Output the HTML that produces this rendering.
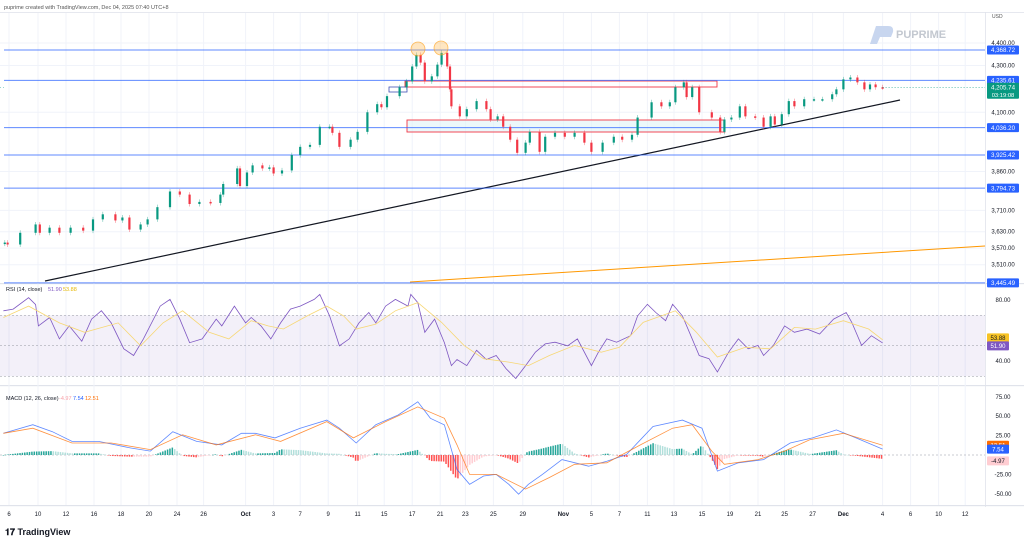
<!DOCTYPE html>
<html><head><meta charset="utf-8">
<style>
html,body{margin:0;padding:0;background:#fff;width:1024px;height:545px;overflow:hidden;font-family:"Liberation Sans",sans-serif}
svg{display:block}
text{font-family:"Liberation Sans",sans-serif}
</style></head>
<body>
<svg id="chart" width="1024" height="545" viewBox="0 0 1024 545">
  <text x="4" y="9" font-size="5.5" fill="#555">puprime created with TradingView.com, Dec 04, 2025 07:40 UTC+8</text>
  <g id="grid"></g>
  <g id="price"></g>
  <g id="rsi"></g>
  <g id="macd"></g>
  <g id="axis"></g>
  <g>
    <path d="M870 44 L876 26 L888 26 Q894 26 893 32 L891 37 L880 37 L877 44 Z" fill="#c8d6ef"/>
    <text x="896" y="38" font-size="11" font-weight="bold" fill="#c3c8d0">PUPRIME</text>
  </g>
  <g>
    <text x="5" y="535" font-size="9" font-weight="bold" fill="#131722">𝟏𝟕 TradingView</text>
  </g>
</svg>
<script>
// ---- Price data (trading days since Sep 6, close) ----
const priceDays=[-0.3,-0.1,0.8,1.9,2.2,2.9,3.6,4.4,5.3,6.0,6.7,7.6,8.1,8.6,9.4,9.9,10.6,11.5,12.2,12.9,13.6,14.4,15.1,15.3,16.3,16.5,17.0,17.4,18.1,18.6,18.9,19.5,20.2,20.8,21.5,22.2,22.9,23.1,23.6,24.4,24.9,25.6,26.3,26.6,27.0,27.9,28.4,28.8,29.1,29.4,29.7,30.2,30.6,30.9,31.3,31.5,31.6,32.2,32.7,33.4,34.1,34.4,34.9,35.3,35.8,36.3,36.9,37.2,37.9,38.3,39.0,39.7,40.4,41.1,41.6,42.4,43.2,43.8,44.5,44.9,45.9,46.6,47.2,47.6,48.2,48.4,48.8,49.3,50.2,50.8,51.1,51.6,52.2,52.6,53.3,53.9,54.4,54.7,55.2,55.7,56.1,56.8,57.5,58.1,58.8,59.1,59.6,60.1,60.6,61.1,61.5,61.9,62.4];
const priceCloses=[3590,3583,3626,3657,3626,3645,3626,3645,3634,3676,3695,3672,3683,3638,3657,3676,3722,3782,3770,3734,3742,3738,3770,3811,3872,3803,3856,3884,3872,3876,3852,3864,3925,3958,3966,4040,4040,4015,3958,3987,4019,4100,4134,4121,4168,4206,4231,4296,4347,4313,4231,4253,4304,4356,4296,4197,4125,4083,4113,4147,4113,4070,4083,4040,3987,3934,3975,4019,3938,3999,4015,3999,4015,3975,3938,3975,3999,3987,4007,4078,4142,4125,4142,4206,4227,4164,4206,4100,4078,4019,4070,4078,4125,4083,4078,4040,4083,4049,4092,4147,4125,4155,4155,4155,4176,4197,4240,4248,4227,4197,4218,4206,4205.74];
const levelPrices=[4368.72,4235.61,4036.20,3925.42,3794.73,3445.49];
const priceTicks=[4400,4300,4100,3860,3710,3630,3570,3510];
const lastPrice=4205.74;
// ---- RSI data ----
const rsiDays=[-0.4,0.3,1.4,1.9,2.1,2.9,3.6,4.3,5.2,5.9,6.6,7.3,8.2,8.9,9.6,10.8,11.5,12.2,12.9,13.8,14.8,15.2,16.1,16.9,17.3,18.0,18.7,19.4,20.1,20.8,21.8,22.2,22.9,23.6,24.3,25.0,25.7,26.2,26.9,27.6,28.5,28.7,29.2,29.7,30.4,31.1,31.6,32.0,32.7,33.4,34.1,34.8,35.5,36.2,36.9,37.6,38.3,39.0,39.9,40.6,41.6,42.1,42.7,43.4,44.4,44.9,45.6,46.2,46.9,47.4,48.1,48.6,49.3,50.0,50.6,51.4,52.1,52.8,53.5,53.9,54.6,55.4,56.1,57.0,57.9,58.9,59.8,60.2,60.9,61.6,62.4];
const rsiValues=[72.9,74,81.5,77,63,68.5,54.5,63,53,67.5,73,65,48,43.6,54.5,76,80.4,67.5,52,54.5,67.5,63,76,65,68.5,63,54.5,65,74,76,80.4,83.7,69.6,50,54.5,65,71.8,65,76,80.4,76,83.7,78.3,58.8,67.5,52,37,41,37,47,41,43.6,35,28.5,37,45.8,51.2,52.3,50,54.5,37,45.8,54.5,52.3,56.6,69.6,77.2,71.8,66.4,77.2,69.6,58.8,43.6,41.5,32.8,45.8,54.5,48,50.2,43.6,50.2,63,58.8,60.9,57.7,67.5,71.8,65.3,50.2,56.6,51.9];
const rsiMaDays=[-0.4,1.4,3.6,5.4,7.8,9.4,11.0,12.4,14.3,15.7,17.3,18.5,19.6,21.3,22.7,23.9,24.8,26.2,27.6,29.2,30.9,32.5,33.9,35.7,37.1,38.6,40.4,42.3,43.6,45.3,47.6,49.1,50.6,52.6,54.4,56.1,57.6,59.6,61.4,62.4];
const rsiMaValues=[68.5,76,65,58.8,65,50,65,72.9,58.8,54.5,66.4,63,61,69.6,76,69.6,61,64.2,72.9,78.3,65.3,50.2,41.5,39.3,37,43.6,50.2,45.8,49,65.3,72.9,58.8,42.6,49,48,62,60.9,66.4,61,53.88];
const rsiTicks=[80,40];
// ---- MACD data ----
const macdDays=[-0.4,1.7,3.1,4.5,6.4,8.7,10.1,11.7,13.4,15.2,16.6,17.6,19.0,20.8,22.7,23.6,24.8,26.2,27.8,29.2,30.1,31.1,32.0,32.9,33.9,34.8,35.7,36.4,37.1,38.1,39.5,41.4,42.7,44.1,46.0,48.1,49.5,50.6,52.1,53.9,55.8,57.4,59.1,60.5,62.4];
const macdValues=[28,39,30,17.5,17.5,9,5,30,17.5,13,28,28,22,34.6,45,34.6,15.4,39,51.6,68.6,47.3,38.8,-18.6,-37.8,-27,-25,-37.8,-50.5,-37.8,-25,-5.9,-14.4,-8,0.5,36.7,45,34.6,-20.7,-10,-5.9,15.4,22,32.4,22,7.54];
const signalDays=[-0.4,1.7,4.5,7.3,10.1,12.4,14.8,17.6,19.4,22.7,24.6,26.9,29.2,31.1,32.0,32.9,34.8,36.9,38.6,40.4,42.7,45.1,47.4,48.8,50.2,51.1,53.5,55.4,57.2,59.6,62.4];
const signalValues=[28,34.6,15.4,15.4,7,26,13,26,17.5,43,22,43,62,47.3,13,-25,-25,-44,-29,-12,-10,13,34.6,39,5,-12,-5.9,5,19.7,28,12.51];
const macdTicks=[75,50,25,-25,-50];
// ---- date axis ----
const dateTickDays=[0,2.07,4.07,6.07,8,10,12,13.9,16.9,18.9,20.8,22.8,24.9,26.8,28.8,30.8,32.6,34.6,36.7,39.6,41.6,43.6,45.6,47.5,49.5,51.5,53.5,55.4,57.4,59.6,62.4,64.4,66.4,68.3];
const dateTickLabels=["6","10","12","16","18","20","24","26","Oct","3","7","9","11","15","17","21","23","25","29","Nov","5","7","11","13","15","19","21","25","27","Dec","4","6","10","12"];

const NS="http://www.w3.org/2000/svg";
function el(tag,attrs,parent,txt){const e=document.createElementNS(NS,tag);for(const k in attrs)e.setAttribute(k,attrs[k]);if(txt!==undefined)e.textContent=txt;parent.appendChild(e);return e;}
const X0=9,DX=14,PLOT_R=985;
const x=d=>X0+d*DX;
const LN_TOP=Math.log(4368.72),PY0=50,PK=981;
const py=p=>PY0+(LN_TOP-Math.log(p))*PK;
const ry=v=>300+(80-v)*1.525;
const my=v=>455-v*0.776;

const grid=document.getElementById('grid');
const price=document.getElementById('price');
const rsi=document.getElementById('rsi');
const macd=document.getElementById('macd');
const axis=document.getElementById('axis');

el('rect',{x:0,y:12,width:1024,height:0.8,fill:'#e0e3eb'},grid);
[283,385,505].forEach(yy=>{const s=el('rect',{x:0,y:yy,width:1024,height:1.2,fill:'#e0e3eb'},grid);

});
el('rect',{x:PLOT_R,y:12,width:0.8,height:495,fill:'#e0e3eb'},grid);

dateTickDays.forEach((d,i)=>{
  el('line',{x1:x(d),x2:x(d),y1:13,y2:505,stroke:'#f0f3fa','stroke-width':1},grid);
  const t=el('text',{x:x(d),y:516,'font-size':6,'text-anchor':'middle',fill:'#131722','font-weight':(/[A-Za-z]/.test(dateTickLabels[i])?'bold':'normal')},axis,dateTickLabels[i]);
  
  
});
priceTicks.forEach(p=>{
  el('line',{x1:0,x2:PLOT_R,y1:py(p),y2:py(p),stroke:'#f0f3fa'},grid);
  const t=el('text',{x:1003,y:py(p)+2,'font-size':6,'text-anchor':'middle',fill:'#131722'},axis,p.toLocaleString('en-US',{minimumFractionDigits:2}));
  
  
});
el('text',{x:992,y:18,'font-size':5,fill:'#555'},axis,'USD');

el('rect',{x:0,y:ry(70),width:PLOT_R,height:ry(30)-ry(70),fill:'#7e57c2','fill-opacity':0.09},rsi);
[70,50,30].forEach(v=>el('line',{x1:0,x2:PLOT_R,y1:ry(v),y2:ry(v),stroke:'#9598a1','stroke-dasharray':'2,2','stroke-width':0.6},rsi));
rsiTicks.forEach(v=>{const t=el('text',{x:1003,y:ry(v)+2,'font-size':6,'text-anchor':'middle',fill:'#131722'},axis,v.toFixed(2));

});
macdTicks.forEach(v=>{const t=el('text',{x:1003,y:my(v)+2,'font-size':6,'text-anchor':'middle',fill:'#131722'},axis,v.toFixed(2));

});
el('line',{x1:0,x2:PLOT_R,y1:my(0),y2:my(0),stroke:'#9598a1','stroke-dasharray':'2,2','stroke-width':0.6},macd);

const tl=el('line',{x1:45,y1:281,x2:900,y2:100,stroke:'#131722','stroke-width':1.2},price);


const ol=el('line',{x1:410,y1:282,x2:985,y2:246,stroke:'#ff9800','stroke-width':1},price);



const z1=el('rect',{x:405,y:81,width:312,height:6,fill:'none',stroke:'#f23645','stroke-width':0.9},price);


const z2=el('rect',{x:407,y:120,width:318,height:12,fill:'#e0f4f7','fill-opacity':0.6,stroke:'#f23645','stroke-width':0.9},price);


const z3=el('rect',{x:389,y:87,width:18,height:5,fill:'none',stroke:'#3f51b5','stroke-width':0.8},price);



levelPrices.forEach(p=>{
  const l=el('line',{x1:4,x2:PLOT_R,y1:py(p),y2:py(p),stroke:'#2962ff','stroke-width':1,'stroke-opacity':0.75},price);
  
  
  const b=el('rect',{x:987,y:py(p)-4.5,width:32,height:9,fill:'#2962ff',rx:1},axis);
  
  
  el('text',{x:1003,y:py(p)+2.2,'font-size':6.2,'text-anchor':'middle',fill:'#fff'},axis,p.toLocaleString('en-US',{minimumFractionDigits:2}));
});

for(let i=0;i<priceCloses.length;i++){
  const o=i?priceCloses[i-1]:priceCloses[i]-4, c=priceCloses[i];
  const w=2.2;
  const up=c>=o, col=up?'#089981':'#f23645';
  const cx=x(priceDays[i]);
  const top=py(Math.max(o,c)), bot=py(Math.min(o,c));
  const wk=el('line',{x1:cx,x2:cx,y1:top-2.5,y2:bot+2.5,stroke:col,'stroke-width':0.6,'stroke-opacity':0.6},price);
  
  
  const r=el('rect',{x:cx-w/2,y:top,width:w,height:Math.max(1.5,bot-top),fill:col},price);
  
  
}
el('line',{x1:x(priceDays[priceDays.length-1]),x2:PLOT_R,y1:py(lastPrice),y2:py(lastPrice),stroke:'#089981','stroke-dasharray':'1,2','stroke-width':0.6},price);
el('line',{x1:0,x2:x(priceDays[0]),y1:py(lastPrice),y2:py(lastPrice),stroke:'#089981','stroke-dasharray':'1,2','stroke-width':0.4},price);
const lt=el('rect',{x:987,y:py(lastPrice)-4.5,width:32,height:16,fill:'#089981',rx:1},axis);


el('text',{x:1003,y:py(lastPrice)+2.2,'font-size':6.2,'text-anchor':'middle',fill:'#fff'},axis,lastPrice.toLocaleString('en-US',{minimumFractionDigits:2}));
el('text',{x:1003,y:py(lastPrice)+9.5,'font-size':5.8,'text-anchor':'middle',fill:'#fff'},axis,'03:19:08');

[[418,49],[441,48]].forEach(([cx,cy])=>{const c=el('circle',{cx:cx,cy:cy,r:7,fill:'#ffb74d','fill-opacity':0.35,stroke:'#ff9800','stroke-width':0.8,'stroke-opacity':0.6},price);

});

function path(days,vals,fy){return days.map((d,i)=>(i?'L':'M')+x(d).toFixed(1)+' '+fy(vals[i]).toFixed(1)).join(' ');}
const rl=el('path',{d:path(rsiDays,rsiValues,ry),fill:'none',stroke:'#7e57c2','stroke-width':0.8},rsi);


const rm=el('path',{d:path(rsiMaDays,rsiMaValues,ry),fill:'none',stroke:'#f7d774','stroke-width':0.8},rsi);


el('text',{x:6,y:291,'font-size':5.5,fill:'#131722'},rsi,'RSI (14, close)');
el('text',{x:48,y:291,'font-size':5.5,fill:'#7e57c2'},rsi,'51.90');
el('text',{x:63,y:291,'font-size':5.5,fill:'#e6b800'},rsi,'53.88');
[[53.88,'#f7c325','#131722',-2],[51.9,'#7e57c2','#fff',3]].forEach(([v,bg,fg,off])=>{
  const b=el('rect',{x:987,y:ry(v)-4.5+off,width:22,height:9,fill:bg,rx:1},axis);
  
  
  el('text',{x:998,y:ry(v)+2.2+off,'font-size':6,'text-anchor':'middle',fill:fg},axis,v.toFixed(2));
});

function interp(days,vals,d){if(d<=days[0])return vals[0];for(let i=1;i<days.length;i++){if(d<=days[i]){const f=(d-days[i-1])/(days[i]-days[i-1]);return vals[i-1]+f*(vals[i]-vals[i-1]);}}return vals[vals.length-1];}
let prevH=0;
for(let d=-0.4;d<=62.41;d+=0.17){
  const h=interp(macdDays,macdValues,d)-interp(signalDays,signalValues,d);
  const grow=Math.abs(h)>=Math.abs(prevH);
  const col=h>=0?(grow?'#26a69a':'#b2dfdb'):(grow?'#ff5252':'#ffcdd2');
  const y1=my(Math.max(h,0)),y2=my(Math.min(h,0));
  const b=el('rect',{x:x(d)-0.8,y:y1,width:1.5,height:Math.max(0.5,y2-y1),fill:col},macd);
  
  
  prevH=h;
}
const ml=el('path',{d:path(macdDays,macdValues,my),fill:'none',stroke:'#2962ff','stroke-width':0.8,'stroke-opacity':0.75},macd);


const sl=el('path',{d:path(signalDays,signalValues,my),fill:'none',stroke:'#ff6d00','stroke-width':0.8,'stroke-opacity':0.75},macd);


el('text',{x:6,y:400,'font-size':5.5,fill:'#131722'},macd,'MACD (12, 26, close)');
el('text',{x:59,y:400,'font-size':5.5,fill:'#f7a1a8'},macd,'-4.97');
el('text',{x:73,y:400,'font-size':5.5,fill:'#2962ff'},macd,'7.54');
el('text',{x:85,y:400,'font-size':5.5,fill:'#ff6d00'},macd,'12.51');
[[12.51,'#ff6d00','#fff'],[7.54,'#2962ff','#fff'],[-4.97,'#ffcdd2','#131722']].forEach(([v,bg,fg])=>{
  const b=el('rect',{x:987,y:my(v)-4.5+(v<0?2:0),width:22,height:9,fill:bg,rx:1},axis);
  
  
  el('text',{x:998,y:my(v)+2.2+(v<0?2:0),'font-size':6,'text-anchor':'middle',fill:fg},axis,v.toFixed(2));
});
</script>
</body></html>
